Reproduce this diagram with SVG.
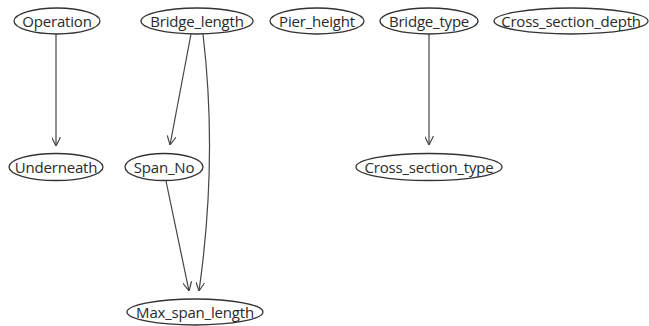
<svg xmlns="http://www.w3.org/2000/svg" width="649" height="326" viewBox="0 0 649 326">
  <style>
    .node ellipse { fill: #fff; stroke: #333; stroke-width: 1.3; }
    .node text { font-family: "Open Sans", "Noto Sans", sans-serif; font-size: 15px; fill: #2a2a2a; text-anchor: middle; dominant-baseline: central; letter-spacing: -0.2px; }
    .edge { fill: none; stroke: #444; stroke-width: 1.2; marker-end: url(#arrow); }
  </style>
  <defs>
    <marker id="arrow" viewBox="0 0 10 10" refX="10" refY="5" markerWidth="9" markerHeight="9" markerUnits="userSpaceOnUse" orient="auto">
      <path d="M0,0 L10,5 L0,10" fill="none" stroke="#444" stroke-width="1.3"/>
    </marker>
  </defs>
  <rect width="649" height="326" fill="#fff"/>

  <g id="edges">
    <path class="edge" d="M56,34 L56,146"/>
    <path class="edge" d="M191,34 L170,145"/>
    <path class="edge" d="M203,34 C212,110 212,200 199,291"/>
    <path class="edge" d="M166,181 L189,291"/>
    <path class="edge" d="M429,34 L429,145"/>
  </g>

  <g id="Operation" class="node"><ellipse cx="57" cy="21" rx="43" ry="13"/><text x="57" y="21">Operation</text></g>
  <g id="Bridge_length" class="node"><ellipse cx="197" cy="21" rx="56" ry="13"/><text x="197" y="21">Bridge_length</text></g>
  <g id="Pier_height" class="node"><ellipse cx="317" cy="21" rx="47" ry="13"/><text x="317" y="21">Pier_height</text></g>
  <g id="Bridge_type" class="node"><ellipse cx="429" cy="21" rx="49" ry="13"/><text x="429" y="21">Bridge_type</text></g>
  <g id="Cross_section_depth" class="node"><ellipse cx="571" cy="21" rx="77" ry="13"/><text x="571" y="21">Cross_section_depth</text></g>

  <g id="Underneath" class="node"><ellipse cx="56" cy="167" rx="47" ry="13.5"/><text x="56" y="167">Underneath</text></g>
  <g id="Span_No" class="node"><ellipse cx="164" cy="167" rx="39" ry="13.5"/><text x="164" y="167">Span_No</text></g>
  <g id="Cross_section_type" class="node"><ellipse cx="429" cy="167" rx="73" ry="13.5"/><text x="429" y="167">Cross_section_type</text></g>

  <g id="Max_span_length" class="node"><ellipse cx="195" cy="312" rx="68" ry="13"/><text x="195" y="312">Max_span_length</text></g>
</svg>
